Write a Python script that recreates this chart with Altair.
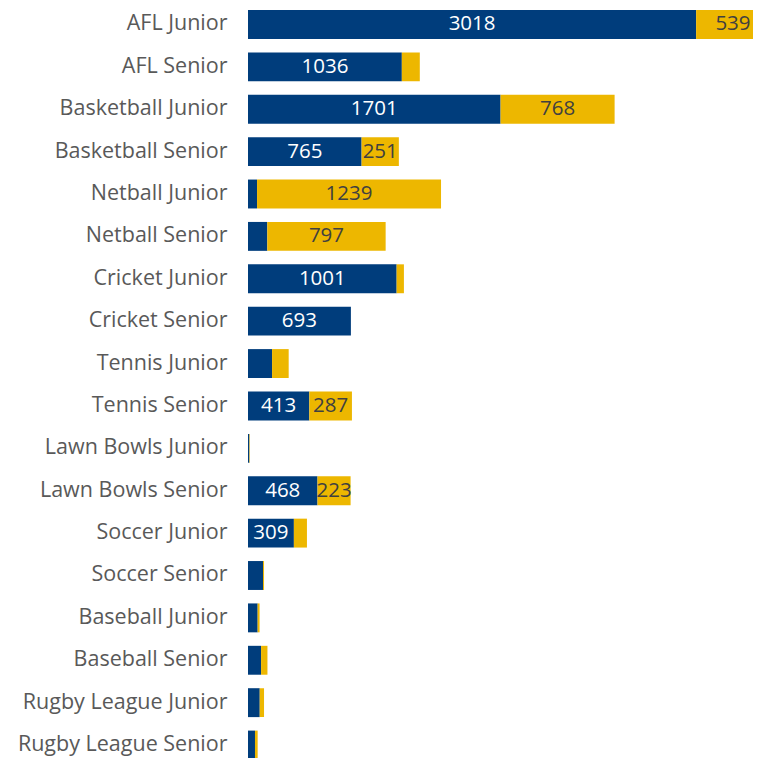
import altair as alt
import pandas as pd

categories = [
    "AFL Junior", "AFL Senior", "Basketball Junior", "Basketball Senior",
    "Netball Junior", "Netball Senior", "Cricket Junior", "Cricket Senior",
    "Tennis Junior", "Tennis Senior", "Lawn Bowls Junior", "Lawn Bowls Senior",
    "Soccer Junior", "Soccer Senior", "Baseball Junior", "Baseball Senior",
    "Rugby League Junior", "Rugby League Senior",
]
blue_values = [3018, 1036, 1701, 765, 61, 130, 1001, 693, 162, 413, 9, 468, 309, 101, 65, 88, 79, 47]
gold_values = [539, 121, 768, 251, 1239, 797, 49, 0, 112, 287, 3, 223, 88, 7, 13, 43, 29, 18]
series_names = ["Blue", "Gold"]
label_threshold = 200

rows = []
for c, b, g in zip(categories, blue_values, gold_values):
    rows.append({"category": c, "series": series_names[0], "order": 0, "value": b})
    rows.append({"category": c, "series": series_names[1], "order": 1, "value": g})
df = pd.DataFrame(rows)

BLUE = "#003D7C"
GOLD = "#EDB700"
X_MAX = 3401

x_scale = alt.Scale(domain=[0, X_MAX], nice=False, zero=True)
y_scale = alt.Scale(domain=categories, paddingInner=0.318, paddingOuter=0, range=[2, 751.5])

base = alt.Chart(df).transform_stack(
    stack="value", groupby=["category"], as_=["v0", "v1"],
    sort=[alt.SortField("order", order="ascending")],
).transform_calculate(mid=f"min((datum.v0 + datum.v1) / 2, {X_MAX} - 135)")

bars = base.mark_bar(clip=True).encode(
    y=alt.Y("category:N", scale=y_scale, sort=categories,
            axis=alt.Axis(title=None, domain=False, ticks=False, labelFontSize=21.5,
                          labelColor="#595959", labelFont="Open Sans", labelPadding=21,
                          labelLimit=300)),
    x=alt.X("v0:Q", scale=x_scale, axis=None),
    x2="v1:Q",
    color=alt.Color("series:N", scale=alt.Scale(domain=series_names, range=[BLUE, GOLD]), legend=None),
)

labels = base.transform_filter(alt.datum.value >= label_threshold).mark_text(
    fontSize=20.5, font="Open Sans", align="center", baseline="middle"
).encode(
    y=alt.Y("category:N", scale=y_scale, sort=categories),
    x=alt.X("mid:Q", scale=x_scale),
    text=alt.Text("value:Q", format="d"),
    color=alt.Color("series:N", scale=alt.Scale(domain=series_names, range=["#FFFFFF", "#404040"]), legend=None),
)

chart = alt.layer(bars, labels).resolve_scale(color="independent").properties(
    width=505, height=750,
    autosize=alt.AutoSizeParams(type="none"),
    padding={"left": 240, "top": 0, "right": 0, "bottom": 0},
).configure_view(stroke=None)

chart.save("out.html", embed_options={"renderer": "svg", "actions": False})
